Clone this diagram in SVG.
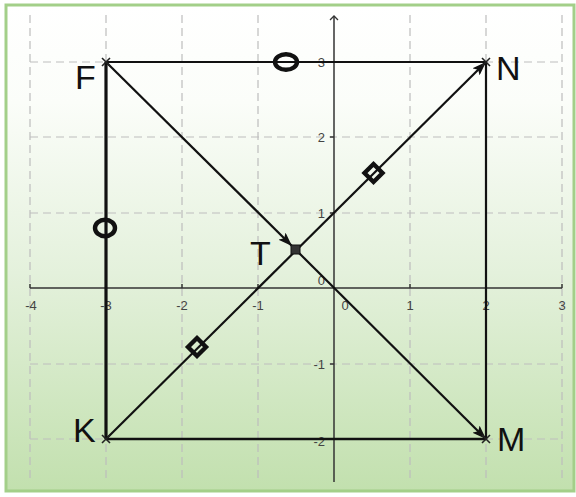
<svg xmlns="http://www.w3.org/2000/svg" width="576" height="497" viewBox="0 0 576 497">
<defs>
<linearGradient id="bg" x1="0" y1="0" x2="0" y2="1">
<stop offset="0" stop-color="#ffffff"/>
<stop offset="0.2" stop-color="#fbfdf9"/>
<stop offset="0.55" stop-color="#e4f1dc"/>
<stop offset="1" stop-color="#c2e0ae"/>
</linearGradient>
<marker id="arr" viewBox="0 0 14 10" refX="14" refY="5" markerWidth="14" markerHeight="10" markerUnits="userSpaceOnUse" orient="auto">
<path d="M0,0 L14,5 L0,10 L3,5 z" fill="#111"/>
</marker>
<marker id="axarr" viewBox="0 0 10 10" refX="5" refY="1" markerWidth="10" markerHeight="10" markerUnits="userSpaceOnUse" orient="0">
<path d="M1,5 L5,1 L9,5" fill="none" stroke="#333" stroke-width="1.3"/>
</marker>
<path id="cross" d="M-4,-4 L4,4 M-4,4 L4,-4"/>
</defs>
<style>
.grid{stroke:#bdbdbd;stroke-width:1.2;stroke-dasharray:8 5;fill:none}
.axis{stroke:#333;stroke-width:1.5;fill:none}
.tick{font-family:"Liberation Sans",Arial,sans-serif;font-size:13px;fill:#444}
.lab{font-family:"Liberation Sans",Arial,sans-serif;font-size:34px;fill:#111}
.seg{stroke:#111;fill:none}
.pt{stroke:#222;stroke-width:1.6;fill:none}
.mark{stroke:#111;stroke-width:4.4;fill:none}
</style>
<rect x="0" y="0" width="576" height="497" fill="#ffffff"/>
<rect x="6" y="5" width="568" height="486" fill="url(#bg)" stroke="#a3cf89" stroke-width="3"/>
<g id="grid">
<path class="grid" d="M30,15 V482 M106,15 V482 M182,15 V482 M258,15 V482 M410,15 V482 M486,15 V482 M562,15 V482"/>
<path class="grid" d="M30,62 H562 M30,137 H562 M30,213 H562 M30,364 H562 M30,439 H562"/>
</g>
<g id="axes">
<path class="axis" d="M30,288 H562"/>
<path class="axis" d="M334,482 V16" marker-end="url(#axarr)"/>
<path class="axis" d="M30,284 V288 M106,284 V288 M182,284 V288 M258,284 V288 M410,284 V288 M486,284 V288 M562,284 V288"/>
<path class="axis" d="M330,62 H334 M330,137 H334 M330,213 H334 M330,364 H334 M330,439 H334"/>
<g class="tick" text-anchor="middle">
<text x="31" y="310">-4</text>
<text x="106" y="310">-3</text>
<text x="182" y="310">-2</text>
<text x="258" y="310">-1</text>
<text x="345" y="310">0</text>
<text x="410" y="310">1</text>
<text x="486" y="310">2</text>
<text x="562" y="310">3</text>
</g>
<g class="tick" text-anchor="end">
<text x="325" y="67">3</text>
<text x="325" y="142">2</text>
<text x="325" y="218">1</text>
<text x="325" y="285">0</text>
<text x="325" y="369">-1</text>
<text x="325" y="446">-2</text>
</g>
</g>
<g id="connectors">
<line class="seg" stroke-width="2.2" x1="106" y1="62" x2="486" y2="62"/>
<line class="seg" stroke-width="3.2" x1="106" y1="62" x2="106" y2="439"/>
<line class="seg" stroke-width="2.2" x1="486" y1="62" x2="486" y2="439"/>
<line class="seg" stroke-width="2.6" x1="106" y1="439" x2="486" y2="439"/>
<line class="seg" stroke-width="2.2" x1="106" y1="439" x2="486" y2="62" marker-end="url(#arr)"/>
<line class="seg" stroke-width="2.2" x1="106" y1="62" x2="292" y2="246" marker-end="url(#arr)"/>
<line class="seg" stroke-width="2.2" x1="296" y1="250" x2="486" y2="439" marker-end="url(#arr)"/>
<ellipse class="mark" cx="286" cy="62" rx="11" ry="7.8"/>
<ellipse class="mark" cx="105" cy="228" rx="10" ry="8.2"/>
<path class="mark" stroke-width="3.6" d="M373.5,164 L382.5,173 L373.5,182 L364.5,173 Z"/>
<path class="mark" stroke-width="3.6" d="M197,338 L206,347 L197,356 L188,347 Z"/>
</g>
<g id="F">
<use href="#cross" class="pt" x="106" y="62"/>
<text class="lab" x="75" y="89">F</text>
</g>
<g id="N">
<use href="#cross" class="pt" x="486" y="62"/>
<text class="lab" x="496" y="80">N</text>
</g>
<g id="M">
<use href="#cross" class="pt" x="486" y="439"/>
<text class="lab" x="497" y="451">M</text>
</g>
<g id="K">
<use href="#cross" class="pt" x="106" y="439"/>
<text class="lab" x="73" y="442">K</text>
</g>
<g id="T">
<rect x="291" y="245" width="9" height="9" fill="#333" stroke="#111" stroke-width="1"/>
<text class="lab" x="250" y="265">T</text>
</g>
</svg>
